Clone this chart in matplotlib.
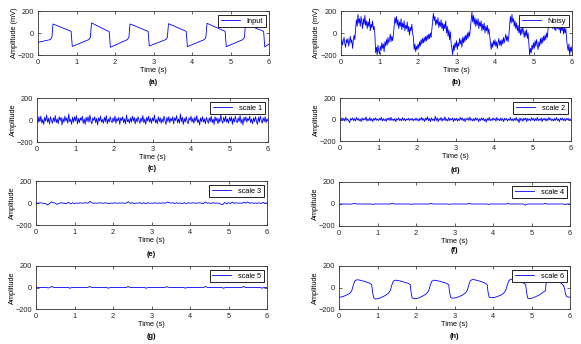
import numpy as np
import matplotlib
matplotlib.use('Agg')
import matplotlib.pyplot as plt

plt.rcParams['font.family'] = ['Liberation Sans', 'DejaVu Sans']

# ---------------- data ----------------
# (a) input signal: breakpoints (time, value)
input_t = [0.00, 0.32, 0.36, 0.39, 0.86, 0.89,
           1.32, 1.36, 1.39, 1.85, 1.88,
           2.32, 2.36, 2.39, 2.86, 2.89,
           3.32, 3.36, 3.39, 3.85, 3.88,
           4.32, 4.36, 4.39, 4.86, 4.89,
           5.32, 5.36, 5.39, 5.86, 5.89, 6.00]
input_v = [-85, -60, -40, 82, 15, -122,
           -60, -40, 92, 12, -130,
           -60, -40, 82, 15, -118,
           -60, -40, 85, 15, -124,
           -60, -40, 88, 15, -124,
           -60, -40, 82, 15, -126, -100]

# (b) noisy signal, sampled every 0.02 s
noisy_v = [
    -90, -60, -110, -70, -40, -100, -130, -60, -90, -50, -120, -80, -30, -90, -60, -140, -70, -20, -60, 40,
    120, 60, 170, 90, 130, 60, 150, 100, 40, 130, 80, 160, 70, 110, 40, 100, 60, 130, 20, 80,
    50, 110, 30, 60, -10, -180, -130, -200, -110, -160,
    -190, -120, -160, -90, -140, -100, -170, -80, -120, -60, -110, -40, -90, -60, -10, -80, -30, -70, -20, 60,
    140, 90, 150, 70, 120, 40, 100, 60, 130, 30, 90, 50, 110, 20, 70, 40, 100, 10, 60, -20,
    50, 20, 80, 0, -40, -150, -100, -170, -120, -150,
    -100, -140, -80, -120, -60, -100, -50, -90, -40, -80, -30, -70, -20, -60, -10, -50, 0, -40, 30, 100,
    180, 110, 150, 70, 120, 80, 140, 50, 100, 60, 120, 40, 90, 20, 80, 40, 110, 0, 60, -30,
    30, -60, 10, -90, -140, -200, -110, -160, -90, -130,
    -70, -150, -90, -120, -50, -100, -60, -130, -40, -90, -30, -80, -20, -60, 0, -50, 10, -30, 40, 120,
    190, 100, 160, 80, 140, 60, 120, 70, 130, 40, 100, 60, 110, 20, 80, 30, 90, 0, 60, 20,
    70, -10, 40, -20, -80, -150, -90, -130, -70, -110,
    -60, -120, -80, -140, -90, -50, -110, -70, -120, -60, -100, -40, -90, -50, -10, -70, -30, -80, -20, 70,
    150, 90, 170, 100, 130, 60, 110, 40, 90, 20, 70, 0, 50, -20, 40, -10, 60, 10, -40, 20,
    -30, 30, -50, 0, -100, -200, -140, -180, -110, -150,
    -90, -140, -70, -120, -60, -110, -150, -80, -120, -50, -100, -40, -90, -30, -70, -20, -60, 0, -40, 50,
    130, 80, 140, 60, 110, 40, 100, 30, 80, 20, 90, 40, 110, 30, 70, 0, 60, 20, 80, -10,
    50, 0, 40, -60, -120, -160, -100, -200, -130, -170, -120]

# (c) scale 1, sampled every 0.025 s
scale1_v = [
    10, -25, 30, -15, 35, -30, 5, -40, 25, -10, 45, -20, 15, -35, 30, -5, -30, 20, -15, 40,
    -25, 10, -35, 30, -5, 25, -45, 15, -20, 35, -10, 20, -30, 55, -15, 5, -40, 25, -20, 30,
    -10, 40, -35, 15, -25, 20, -5, 35, -30, 10, -40, 25, -15, 30, -20, 45, -10, -35, 20, -5,
    30, -25, 15, -45, 20, -10, 35, -20, 5, -30, 25, -15, 40, -35, 10, -20, 30, -5, -25, 20,
    -15, 35, -30, 15, -10, 25, -40, 20, -5, 30, -25, 10, -35, 45, -15, 5, -30, 20, -20, 35,
    -10, 25, -35, 15, -20, 30, -5, -30, 20, -15, 40, -25, 10, -40, 25, -10, 35, -20, 15, -30,
    20, -10, 45, -25, 5, -35, 30, -15, 20, -30, 10, -20, 35, -5, -40, 25, -15, 30, -25, 15,
    -10, 30, -35, 20, -5, 40, -25, 10, -30, 55, -15, 25, -40, 15, -20, 30, -10, -35, 20, -5,
    35, -20, 15, -30, 25, -10, 40, -25, 5, -45, 20, -15, 30, -20, 10, -35, 25, -5, -30, 20,
    -15, 35, -25, 10, -40, 30, -10, 20, -35, 15, -20, 45, -5, -30, 25, -15, 35, -20, 10, -30,
    25, -10, 30, -40, 15, -20, 35, -5, -25, 20, -15, 40, -30, 10, -45, 25, -10, 30, -20, 15,
    -5, 35, -25, 10, -35, 20, -15, 30, -10, -40, 25, -20, 35, -5, -30, 20, -15, 30, -25, 10,
    -5]

# (d) scale 2, sampled every 0.025 s
scale2_v = [
    5, -10, 15, -5, 10, -15, 20, -8, 5, -12, -30, 10, -5, 15, -10, 8, -15, 20, -5, 10,
    -12, 5, -20, 15, -8, 10, -5, 25, -15, 5, -10, 18, -12, 8, -20, 10, -5, 15, -8, 5,
    -10, 12, -5, 20, -15, 8, -10, 5, -18, 12, -5, 15, -10, 20, -8, 5, -12, 10, -20, 8,
    -5, 15, -10, 5, -12, 18, -8, 10, -15, 5, -5, 12, -10, 8, -6, 10, -12, 5, -8, 15,
    -10, 6, -15, 12, -5, 20, -10, 8, -18, 15, -5, 25, -12, 10, -20, 15, -8, 5, -15, 30,
    -10, 15, -20, 8, -5, 20, -15, 10, -8, 25, -12, 5, -15, 18, -10, 8, -5, 15, -20, 10,
    -8, 12, -15, 5, -10, 20, -5, 15, -12, 8, -20, 10, -5, 15, -10, 22, -8, 5, -15, 10,
    -12, 18, -5, 10, -20, 8, -10, 15, -5, 12, -15, 5, -25, 10, -8, 20, -12, 5, -10, 15,
    -5, 10, -15, 20, -8, 5, -12, 15, -10, 8, -20, 12, -5, 10, -15, 5, -8, 18, -10, 5,
    -15, 10, -8, 20, -12, 5, -30, 15, -10, 8, -18, 12, -5, 15, -20, 10, -8, 5, -12, 18,
    -5, 10, -15, 8, -10, 20, -12, 5, -8, 15, -20, 10, -5, 12, -15, 8, -10, 20, -5, 10,
    -12, 5, -15, 10, -8, 18, -10, 5, -20, 12, -5, 15, -10, 8, -15, 10, -5, 12, -8, 5,
    0]

# (e) scale 3, sampled every 0.05 s
scale3_v = [
    0, -2, 2, 0, -3, -5, -18, -5, 10, 3, -2, -12, -3, 2, 0, -5, -3, 5, -8, 2,
    -5, 0, -3, 2, -2, 0, 3, -2, 15, 2, -3, 0, -2, 2, 0, -3, 2, -2, -5, 0,
    -3, 2, -2, 0, -2, 2, -3, 0, 12, -3, 2, -5, 0, -2, 3, -5, 2, -7, 3, -3,
    0, -2, 2, -3, 0, -2, 2, -3, 8, 5, -2, 3, -5, 2, -3, 0, -5, 3, -6, 2,
    -2, 0, 2, -3, 0, 2, -2, -5, 10, -3, 2, -5, 3, -2, 0, -3, -10, -15, 5, -8,
    3, -5, 8, -3, 2, -2, 0, -3, 8, -2, 10, -3, 2, -2, 0, -3, 2, -5, 6, -3,
    0]

# (f) scale 4: breakpoints
scale4_t = [0.00, 0.27, 0.30, 0.33, 0.38, 0.43, 0.48, 0.84, 0.88, 0.92,
            1.34, 1.39, 1.44, 1.84, 1.88, 1.92,
            2.34, 2.39, 2.44, 2.83, 2.87, 2.91,
            3.34, 3.39, 3.44, 3.84, 3.88, 3.92,
            4.34, 4.39, 4.44, 4.79, 4.82, 4.84, 4.87, 4.90,
            5.31, 5.35, 5.40, 5.83, 5.87, 5.91, 6.00]
scale4_v = [0, 0, -3, 0, 5, 3, 0, 0, -5, 0,
            0, 8, 0, 0, -4, 0,
            0, 7, 0, 0, -4, 0,
            0, 6, 0, 0, -4, 0,
            0, 5, 0, 0, -6, -10, -4, 0,
            0, 6, 0, 0, -6, 0, 0]

# (g) scale 5: breakpoints
scale5_t = [0.00, 0.28, 0.32, 0.36, 0.41, 0.47, 0.84, 0.88, 0.93,
            1.34, 1.39, 1.45, 1.84, 1.88, 1.93,
            2.34, 2.39, 2.45, 2.82, 2.86, 2.91,
            3.35, 3.40, 3.46, 3.84, 3.88, 3.93,
            4.35, 4.40, 4.46, 4.83, 4.87, 4.92,
            5.34, 5.39, 5.45, 5.83, 5.87, 5.92, 6.00]
scale5_v = [0, 0, -5, 2, 9, 0, 0, -7, 0,
            0, 9, 0, 0, -7, 0,
            0, 9, 0, 0, -7, 0,
            0, 8, 0, 0, -6, 0,
            0, 9, 0, 0, -7, 0,
            0, 9, 0, 0, -7, 0, 0]

# (h) scale 6: breakpoints
scale6_t = [0.00, 0.10, 0.20, 0.28, 0.33, 0.37, 0.41, 0.46, 0.52, 0.65, 0.80, 0.85, 0.87, 0.90, 0.95,
            1.05, 1.20, 1.28, 1.33, 1.37, 1.41, 1.46, 1.52, 1.65, 1.80, 1.85, 1.87, 1.90, 1.95,
            2.05, 2.20, 2.28, 2.33, 2.37, 2.41, 2.46, 2.52, 2.65, 2.80, 2.85, 2.87, 2.90, 2.95,
            3.05, 3.20, 3.28, 3.33, 3.37, 3.41, 3.46, 3.52, 3.65, 3.80, 3.85, 3.87, 3.90, 3.95,
            4.05, 4.20, 4.28, 4.33, 4.37, 4.41, 4.46, 4.52, 4.65, 4.80, 4.85, 4.87, 4.90, 4.95,
            5.05, 5.20, 5.30, 5.36, 5.38, 5.42, 5.50, 5.65, 5.75, 5.83, 5.86, 5.88, 5.92, 6.00]
scale6_v = [-92, -85, -70, -55, -30, 20, 60, 72, 70, 58, 40, 25, -40, -95, -108,
            -100, -75, -55, -30, 20, 58, 68, 66, 55, 38, 25, -40, -95, -105,
            -100, -75, -55, -30, 20, 58, 68, 66, 55, 38, 25, -40, -92, -100,
            -95, -72, -52, -28, 22, 62, 74, 72, 60, 40, 25, -40, -90, -95,
            -92, -72, -52, -28, 22, 62, 77, 75, 60, 40, 25, -40, -98, -105,
            -95, -70, -45, -30, 40, 65, 70, 58, 45, 20, -10, -60, -85, -92]

legend_labels = ['Input', 'Noisy', 'scale 1', 'scale 2', 'scale 3', 'scale 4', 'scale 5', 'scale 6']
panel_tags = ['(a)', '(b)', '(c)', '(d)', '(e)', '(f)', '(g)', '(h)']
ylabels = ['Amplitude (mV)', 'Amplitude (mV)'] + ['Amplitude'] * 6
x_ticks = [0, 1, 2, 3, 4, 5, 6]
y_ticks = [-200, 0, 200]


def sampled(values):
    return np.linspace(0, 6, len(values)), np.asarray(values)


series = [
    (np.asarray(input_t), np.asarray(input_v)),
    sampled(noisy_v),
    sampled(scale1_v),
    sampled(scale2_v),
    sampled(scale3_v),
    (np.asarray(scale4_t), np.asarray(scale4_v)),
    (np.asarray(scale5_t), np.asarray(scale5_v)),
    (np.asarray(scale6_t), np.asarray(scale6_v)),
]

# ---------------- layout ----------------
W, H = 581, 344
# pixel boxes: left, top, right, bottom
boxes = [
    (38, 11, 269, 55), (341, 11, 572, 55),
    (37, 98, 268, 142), (340, 98, 571, 141),
    (36, 181, 267, 225), (339, 182, 570, 226),
    (36, 266, 267, 309), (339, 266, 570, 309),
]
tag_offsets = [27, 27, 27, 29.5, 29, 25, 27.5, 27.5]
FS = 5.3

fig = plt.figure(figsize=(W / 100, H / 100), dpi=100)
fig.patch.set_facecolor('white')

for i, ((l, t, r, b), (xs, ys)) in enumerate(zip(boxes, series)):
    ax = fig.add_axes([l / W, 1 - b / H, (r - l) / W, (b - t) / H])
    ax.plot(xs, ys, color='#0000ff', lw=0.6, label=legend_labels[i])
    ax.set_xlim(0, 6)
    ax.set_ylim(-200, 200)
    ax.set_xticks(x_ticks)
    ax.set_yticks(y_ticks)
    ax.tick_params(direction='in', length=2.2, width=0.5, top=True, right=True,
                   labelsize=FS, pad=3, colors='#222222')
    for sp in ax.spines.values():
        sp.set_linewidth(0.6)
        sp.set_color('#333333')
    w, h = r - l, b - t
    leg = ax.legend(loc='upper right', bbox_to_anchor=(1 - 3.5 / w, 1 - 4 / h),
                    borderaxespad=0, fontsize=FS, handlelength=2.6,
                    handletextpad=0.9, borderpad=0.35, fancybox=False,
                    framealpha=1, edgecolor='#222222')
    leg.get_frame().set_linewidth(0.7)
    cx = (l + r) / 2 / W
    fig.text((l - 24) / W, 1 - (t + b) / 2 / H, ylabels[i], rotation=90,
             ha='center', va='center', fontsize=FS)
    fig.text(cx, 1 - (b + 15.7) / H, 'Time (s)', ha='center', va='center', fontsize=FS)
    fig.text(cx, 1 - (b + tag_offsets[i]) / H, panel_tags[i], ha='center', va='center',
             fontsize=FS, fontweight='bold')

fig.savefig('out.png', dpi=100, facecolor='white')
